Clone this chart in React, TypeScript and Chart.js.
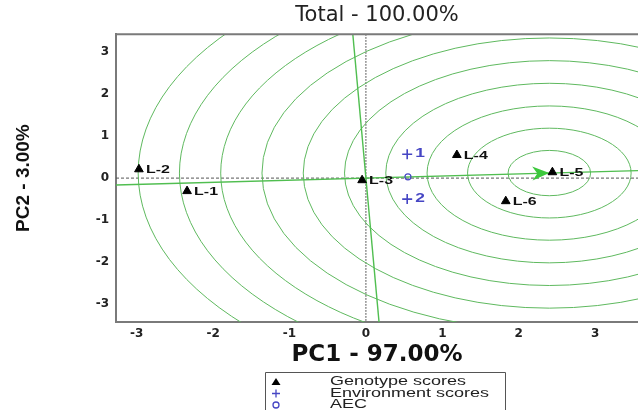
import React, { useEffect, useRef } from "react";
import { Chart, registerables } from "chart.js";

Chart.register(...registerables);

// ---- data ----
const genotypeNames = ["L-1", "L-2", "L-3", "L-4", "L-5", "L-6"];
const genotypePC1 = [-2.34, -2.97, -0.05, 1.19, 2.44, 1.83];
const genotypePC2 = [-0.31, 0.21, -0.05, 0.55, 0.14, -0.55];

const envNames = ["1", "2"];
const envPC1 = [0.54, 0.54];
const envPC2 = [0.57, -0.5];

const aecPC1 = [0.55];
const aecPC2 = [0.03];

const idealPC1 = 2.4;
const idealPC2 = 0.12;
const circleRadii = [0.54, 1.07, 1.6, 2.14, 2.68, 3.22, 3.76, 4.3, 4.84, 5.38];

const xTickValues = [-3, -2, -1, 0, 1, 2, 3];
const yTickValues = [-3, -2, -1, 0, 1, 2, 3];
const xRange = [-3.27, 3.56];
const yRange = [-3.43, 3.43];

const chartTitle = "Total - 100.00%";
const xTitle = "PC1 - 97.00%";
const yTitle = "PC2 - 3.00%";
const legendLabels = ["Genotype scores", "Environment scores", "AEC"];

const GREEN = "rgb(95,185,95)";
const BLUE = "#4646c4";
const FRAME = "#7a7a7a";

function stretchText(ctx: CanvasRenderingContext2D, text: string, x: number, y: number, sx: number) {
  ctx.save();
  ctx.translate(x, y);
  ctx.scale(sx, 1);
  ctx.fillText(text, 0, 0);
  ctx.restore();
}

const biplotPlugin = {
  id: "biplotLayers",
  beforeDatasetsDraw(chart: any) {
    const { ctx, chartArea: a, scales } = chart;
    const xs = scales.x;
    const ys = scales.y;
    ctx.save();
    ctx.beginPath();
    ctx.rect(a.left, a.top, a.right - a.left, a.bottom - a.top);
    ctx.clip();

    // reference axes
    ctx.strokeStyle = "#555";
    ctx.lineWidth = 1;
    ctx.setLineDash([3, 2]);
    ctx.beginPath();
    ctx.moveTo(a.left, ys.getPixelForValue(0));
    ctx.lineTo(a.right, ys.getPixelForValue(0));
    ctx.stroke();
    ctx.setLineDash([1.5, 1.5]);
    ctx.strokeStyle = "#333";
    ctx.beginPath();
    ctx.moveTo(xs.getPixelForValue(0), a.top);
    ctx.lineTo(xs.getPixelForValue(0), a.bottom);
    ctx.stroke();
    ctx.setLineDash([]);

    // concentric circles around the ideal genotype
    const cx = xs.getPixelForValue(idealPC1);
    const cy = ys.getPixelForValue(idealPC2);
    ctx.strokeStyle = GREEN;
    ctx.lineWidth = 1;
    circleRadii.forEach((r) => {
      const rx = Math.abs(xs.getPixelForValue(idealPC1 + r) - cx);
      const ry = Math.abs(ys.getPixelForValue(idealPC2 + r) - cy);
      ctx.beginPath();
      ctx.ellipse(cx, cy, rx, ry, 0, 0, Math.PI * 2);
      ctx.stroke();
    });

    // average environment axis and its perpendicular through the origin
    const len = Math.hypot(idealPC1, idealPC2);
    const dx = idealPC1 / len;
    const dy = idealPC2 / len;
    ctx.strokeStyle = "rgb(80,190,80)";
    ctx.lineWidth = 1.4;
    ctx.beginPath();
    ctx.moveTo(xs.getPixelForValue(-20 * dx), ys.getPixelForValue(-20 * dy));
    ctx.lineTo(xs.getPixelForValue(20 * dx), ys.getPixelForValue(20 * dy));
    ctx.stroke();
    ctx.beginPath();
    ctx.moveTo(xs.getPixelForValue(20 * dy), ys.getPixelForValue(-20 * dx));
    ctx.lineTo(xs.getPixelForValue(-20 * dy), ys.getPixelForValue(20 * dx));
    ctx.stroke();

    // arrow head at the ideal point
    const ox = xs.getPixelForValue(0);
    const oy = ys.getPixelForValue(0);
    const ang = Math.atan2(cy - oy, cx - ox);
    ctx.translate(cx, cy);
    ctx.rotate(ang);
    ctx.fillStyle = "rgb(60,200,60)";
    ctx.beginPath();
    ctx.moveTo(0, 0);
    ctx.lineTo(-17, -7);
    ctx.lineTo(-12, 0);
    ctx.lineTo(-17, 7);
    ctx.closePath();
    ctx.fill();
    ctx.restore();
  },
  afterDatasetsDraw(chart: any) {
    const { ctx, scales } = chart;
    const xs = scales.x;
    const ys = scales.y;
    ctx.save();
    ctx.textBaseline = "middle";
    ctx.textAlign = "left";
    ctx.fillStyle = "#111";
    ctx.font = "bold 11px 'Liberation Sans', Arial, sans-serif";
    genotypeNames.forEach((n, i) => {
      stretchText(ctx, n, xs.getPixelForValue(genotypePC1[i]) + 7, ys.getPixelForValue(genotypePC2[i]) + 1, 1.45);
    });
    ctx.fillStyle = BLUE;
    ctx.font = "bold 12px 'Liberation Sans', Arial, sans-serif";
    envNames.forEach((n, i) => {
      stretchText(ctx, n, xs.getPixelForValue(envPC1[i]) + 8, ys.getPixelForValue(envPC2[i]), 1.45);
    });
    ctx.restore();
  },
  afterDraw(chart: any) {
    const { ctx, chartArea: a } = chart;
    ctx.save();
    // top frame line
    ctx.strokeStyle = FRAME;
    ctx.lineWidth = 2;
    ctx.beginPath();
    ctx.moveTo(a.left - 1, a.top);
    ctx.lineTo(a.right, a.top);
    ctx.stroke();

    // legend box
    const bx = 265;
    const by = 372;
    ctx.strokeStyle = "#555";
    ctx.lineWidth = 1;
    ctx.beginPath();
    ctx.moveTo(bx + 0.5, chart.height + 2);
    ctx.lineTo(bx + 0.5, by + 0.5);
    ctx.lineTo(bx + 240.5, by + 0.5);
    ctx.lineTo(bx + 240.5, chart.height + 2);
    ctx.stroke();
    const rowY = [382, 393.5, 405];
    const sx = bx + 11;
    // triangle
    ctx.fillStyle = "#000";
    ctx.beginPath();
    ctx.moveTo(sx, rowY[0] - 4);
    ctx.lineTo(sx - 4.5, rowY[0] + 3);
    ctx.lineTo(sx + 4.5, rowY[0] + 3);
    ctx.closePath();
    ctx.fill();
    // plus
    ctx.strokeStyle = BLUE;
    ctx.lineWidth = 1.3;
    ctx.beginPath();
    ctx.moveTo(sx - 4, rowY[1]);
    ctx.lineTo(sx + 4, rowY[1]);
    ctx.moveTo(sx, rowY[1] - 4);
    ctx.lineTo(sx, rowY[1] + 4);
    ctx.stroke();
    // circle
    ctx.beginPath();
    ctx.arc(sx, rowY[2], 3, 0, Math.PI * 2);
    ctx.stroke();
    ctx.fillStyle = "#222";
    ctx.font = "12px 'Liberation Sans', Arial, sans-serif";
    ctx.textBaseline = "middle";
    legendLabels.forEach((t, i) => stretchText(ctx, t, 330, rowY[i], 1.5));
    ctx.restore();
  },
};

export default function App() {
  const ref = useRef<HTMLCanvasElement | null>(null);

  useEffect(() => {
    if (!ref.current) return;
    const chart = new Chart(ref.current, {
      type: "scatter",
      data: {
        datasets: [
          {
            label: legendLabels[0],
            data: genotypePC1.map((x, i) => ({ x, y: genotypePC2[i] })),
            pointStyle: "triangle",
            pointRadius: 5,
            backgroundColor: "#000",
            borderColor: "#000",
            borderWidth: 1,
          },
          {
            label: legendLabels[1],
            data: envPC1.map((x, i) => ({ x, y: envPC2[i] })),
            pointStyle: "cross",
            pointRadius: 5,
            borderColor: BLUE,
            borderWidth: 1.6,
          },
          {
            label: legendLabels[2],
            data: aecPC1.map((x, i) => ({ x, y: aecPC2[i] })),
            pointStyle: "circle",
            pointRadius: 3,
            backgroundColor: "rgba(0,0,0,0)",
            borderColor: BLUE,
            borderWidth: 1.2,
          },
        ],
      },
      options: {
        responsive: false,
        animation: false,
        devicePixelRatio: 1,
        layout: { autoPadding: false, padding: { left: 0, right: 0, top: 0, bottom: 41 } },
        plugins: {
          legend: { display: false },
          tooltip: { enabled: false },
          title: {
            display: true,
            fullSize: false,
            text: chartTitle,
            color: "#222",
            font: { family: "'DejaVu Sans', sans-serif", size: 21, weight: "normal" },
            padding: { top: 3, bottom: 6 },
          },
        },
        scales: {
          x: {
            type: "linear",
            min: xRange[0],
            max: xRange[1],
            afterFit: (s: any) => {
              s.height = 47;
            },
            afterBuildTicks: (s: any) => {
              s.ticks = xTickValues.map((v) => ({ value: v }));
            },
            grid: { display: false, drawTicks: false },
            border: { display: true, color: FRAME, width: 2 },
            ticks: {
              padding: 5,
              color: "#222",
              font: { family: "'DejaVu Sans', sans-serif", size: 12, weight: "bold" },
              callback: (v: any) => String(v),
            },
            title: {
              display: true,
              text: xTitle,
              color: "#111",
              padding: { top: 0, bottom: 0 },
              font: { family: "'DejaVu Sans', sans-serif", size: 23, weight: "bold" },
            },
          },
          y: {
            type: "linear",
            min: yRange[0],
            max: yRange[1],
            afterFit: (s: any) => {
              s.width = 116;
            },
            afterBuildTicks: (s: any) => {
              s.ticks = yTickValues.map((v) => ({ value: v }));
            },
            grid: { display: false, drawTicks: false },
            border: { display: true, color: FRAME, width: 2 },
            ticks: {
              padding: 7,
              color: "#222",
              font: { family: "'DejaVu Sans', sans-serif", size: 12, weight: "bold" },
              callback: (v: any) => String(v),
            },
            title: {
              display: true,
              text: yTitle,
              color: "#111",
              padding: { top: 12, bottom: 0 },
              font: { family: "'Liberation Sans', Arial, sans-serif", size: 19, weight: "bold" },
            },
          },
        },
      },
      plugins: [biplotPlugin],
    } as any);
    return () => chart.destroy();
  }, []);

  return (
    <div style={{ position: "absolute", left: 0, top: 0, width: 638, height: 410, background: "#fff", overflow: "hidden" }}>
      <canvas ref={ref} width={638} height={410} />
    </div>
  );
}
